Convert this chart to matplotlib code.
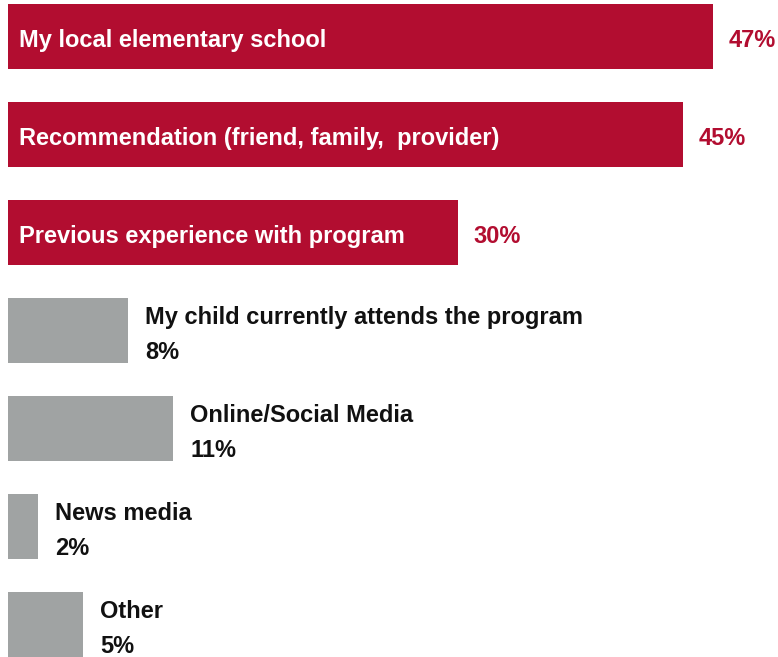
import matplotlib.pyplot as plt

plt.rcParams['font.family'] = ['Liberation Sans', 'DejaVu Sans']

# survey answers, top to bottom
labels = [
    'My local elementary school',
    'Recommendation (friend, family,  provider)',
    'Previous experience with program',
    'My child currently attends the program',
    'Online/Social Media',
    'News media',
    'Other',
]
values = [47, 45, 30, 8, 11, 2, 5]
highlight = [True, True, True, False, False, False, False]

red = '#B20D30'
gray = '#A0A3A3'

fig = plt.figure(figsize=(7.78, 6.57), dpi=100)
ax = fig.add_axes([0, 0, 1, 1])

ypos = list(range(len(values)))
colors = [red if h else gray for h in highlight]
ax.barh(ypos, values, height=0.663, color=colors, left=0)

fs = 17
for y, lab, v, h in zip(ypos, labels, values, highlight):
    if h:
        # name inside the bar, value to the right
        ax.annotate(lab, (0, y), xytext=(8, -7.6), textcoords='offset points',
                    ha='left', va='baseline', color='white', fontsize=fs,
                    fontweight='bold')
        ax.annotate(f'{v}%', (v, y), xytext=(10.8, -7.6), textcoords='offset points',
                    ha='left', va='baseline', color=red, fontsize=fs,
                    fontweight='bold')
    else:
        # name and value stacked beside the bar
        ax.annotate(lab, (v, y), xytext=(12.2, 4.9), textcoords='offset points',
                    ha='left', va='baseline', color='#111111', fontsize=fs,
                    fontweight='bold')
        ax.annotate(f'{v}%', (v, y), xytext=(12.2, -20.2), textcoords='offset points',
                    ha='left', va='baseline', color='#111111', fontsize=fs,
                    fontweight='bold')

ax.set_xlim(-0.53, 51.3)
ax.set_ylim(6.33, -0.37)
ax.axis('off')

fig.savefig('out.png', dpi=100)
plt.close(fig)
